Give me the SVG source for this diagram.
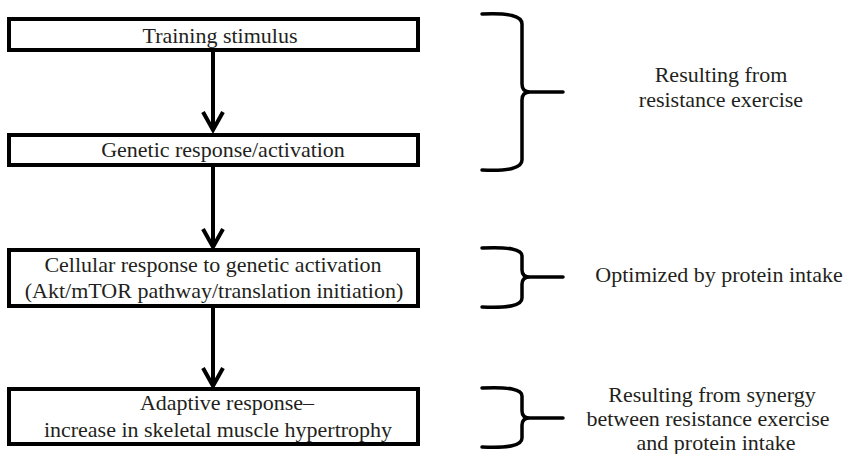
<svg xmlns="http://www.w3.org/2000/svg" width="849" height="454" viewBox="0 0 849 454">
<style>
.box{fill:#fff;stroke:#000;stroke-width:4}
.t{font-family:"Liberation Serif","DejaVu Serif",serif;font-size:22px;fill:#231f20;text-anchor:middle}
.conn{stroke:#000;stroke-width:4;fill:none}
.brace{stroke:#000;stroke-width:3.5;fill:none;stroke-linecap:round}
</style>
<rect width="849" height="454" fill="#fff"/>
<g id="connectors">
<path class="conn" d="M213,52 L213,130 M203,112 L213,130 L223,112"/>
<path class="conn" d="M213,167 L213,247 M203,229 L213,247 L223,229"/>
<path class="conn" d="M213,308 L213,386 M203,368 L213,386 L223,368"/>
</g>
<g id="node-training">
<rect class="box" x="9" y="19" width="409" height="31"/>
<text class="t" x="220" y="43">Training stimulus</text>
</g>
<g id="node-genetic">
<rect class="box" x="9" y="135" width="409" height="30"/>
<text class="t" x="223" y="157">Genetic response/activation</text>
</g>
<g id="node-cellular">
<rect class="box" x="9" y="250" width="409" height="56"/>
<text class="t" x="213" y="272">Cellular response to genetic activation</text>
<text class="t" x="214" y="298">(Akt/mTOR pathway/translation initiation)</text>
</g>
<g id="node-adaptive">
<rect class="box" x="9" y="389" width="409" height="55"/>
<text class="t" x="227" y="410">Adaptive response–</text>
<text class="t" x="218" y="437">increase in skeletal muscle hypertrophy</text>
</g>
<g id="brace-1">
<path class="brace" d="M482,14 Q522,12 522,24 L522,84 Q522,92 530,92 L563,92 M530,92 Q522,92 522,100 L522,160 Q522,172 482,170"/>
<text class="t" x="721" y="82">Resulting from</text>
<text class="t" x="721" y="107">resistance exercise</text>
</g>
<g id="brace-2">
<path class="brace" d="M482,248 Q522,246 522,256 L522,270 Q522,277 530,277 L563,277 M530,277 Q522,277 522,284 L522,298 Q522,309 482,307"/>
<text class="t" x="719" y="282">Optimized by protein intake</text>
</g>
<g id="brace-3">
<path class="brace" d="M482,388 Q522,386 522,396 L522,411 Q522,418 530,418 L563,418 M530,418 Q522,418 522,425 L522,438 Q522,449 482,447"/>
<text class="t" x="712" y="402">Resulting from synergy</text>
<text class="t" x="708" y="426">between resistance exercise</text>
<text class="t" x="716" y="450">and protein intake</text>
</g>
</svg>
